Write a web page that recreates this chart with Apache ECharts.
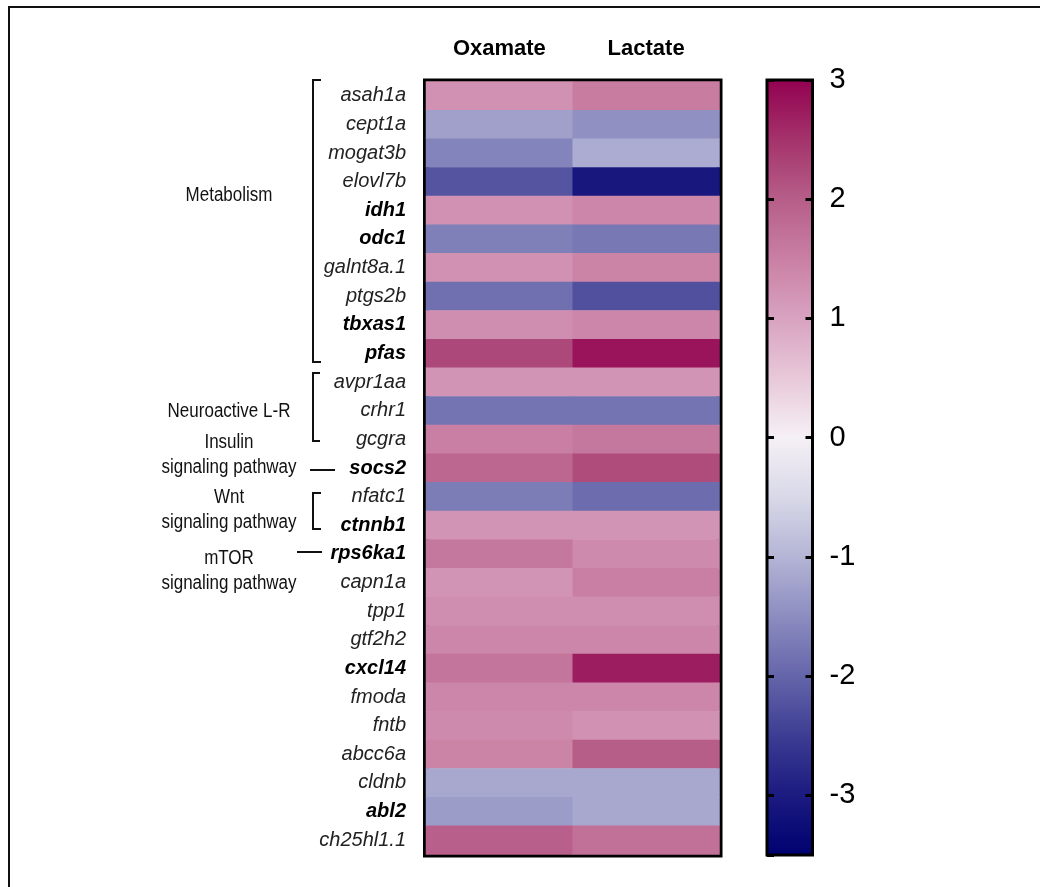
<!DOCTYPE html>
<html><head><meta charset="utf-8">
<script src="https://cdn.jsdelivr.net/npm/echarts@6/dist/echarts.min.js"></script>
<style>html,body{margin:0;padding:0;background:#fff}#c{width:1040px;height:887px}</style>
</head><body><div id="c"></div>
<script>
const genes = ['asah1a','cept1a','mogat3b','elovl7b','idh1','odc1','galnt8a.1','ptgs2b','tbxas1','pfas',
  'avpr1aa','crhr1','gcgra','socs2','nfatc1','ctnnb1','rps6ka1','capn1a','tpp1','gtf2h2','cxcl14',
  'fmoda','fntb','abcc6a','cldnb','abl2','ch25hl1.1'];
const boldGenes = ['idh1','odc1','tbxas1','pfas','socs2','ctnnb1','rps6ka1','cxcl14','abl2'];
const treatments = ['Oxamate','Lactate'];
const oxamate = [1.25,-1.25,-1.6,-2.2,1.25,-1.65,1.25,-1.85,1.3,2.25,
  1.2,-1.8,1.5,1.85,-1.7,1.2,1.6,1.2,1.3,1.4,1.65,
  1.4,1.35,1.45,-1.15,-1.3,1.95];
const lactate = [1.55,-1.45,-1.1,-3.05,1.4,-1.75,1.45,-2.25,1.4,2.8,
  1.2,-1.8,1.6,2.2,-1.9,1.2,1.35,1.5,1.3,1.4,2.7,
  1.4,1.25,2.0,-1.15,-1.15,1.7];
const scaleMin = -3.5, scaleMax = 3;
// colour ramp, one colour every 0.5 from scaleMin to scaleMax
const rampColors = ['#000070','#1a1a80','#3c3c93','#6464aa','#8c8cc0','#b4b4d6','#d8d8e8',
  '#f5f0f5','#e8c8d9','#d8a2c0','#c97fa3','#b65d88','#a4326b','#920050'];

const data = [];
genes.forEach((g, i) => {
  data.push([0, i, oxamate[i]]);
  data.push([1, i, lactate[i]]);
});
const gradStops = rampColors.map((c, i) => {
  const v = scaleMin + i * (scaleMax - scaleMin) / (rampColors.length - 1);
  return { offset: (scaleMax - v) / (scaleMax - scaleMin), color: c };
}).reverse();

const FONT = '"Liberation Sans", Arial, sans-serif';
const chart = echarts.init(document.getElementById('c'), null, { renderer: 'canvas' });

const groupText = (text, x, y) => ({
  type: 'text', x: x, y: y, scaleX: 0.85,
  style: { text: text, fill: '#111', font: '20px ' + FONT, textAlign: 'center', textVerticalAlign: 'middle' }
});
const line = (pts) => ({
  type: 'polyline', shape: { points: pts },
  style: { stroke: '#111', lineWidth: 2, fill: null }
});

chart.setOption({
  animation: false,
  backgroundColor: '#fff',
  textStyle: { fontFamily: FONT },
  grid: [
    { left: 426, top: 81.5, width: 293.5, height: 773, show: true, borderColor: '#000', borderWidth: 6, backgroundColor: '#fff', containLabel: false },
    { left: 767, top: 80, width: 45.5, height: 775, show: true, borderColor: '#000', borderWidth: 3,
      backgroundColor: { type: 'linear', x: 0, y: 0, x2: 0, y2: 1, colorStops: gradStops } }
  ],
  xAxis: [
    { type: 'category', gridIndex: 0, data: treatments, position: 'top',
      axisLine: { show: false }, axisTick: { show: false }, splitLine: { show: false },
      axisLabel: { fontSize: 22, fontWeight: 'bold', color: '#000', margin: 22, fontFamily: FONT } },
    { type: 'category', gridIndex: 1, data: [''], show: false }
  ],
  yAxis: [
    { type: 'category', gridIndex: 0, data: genes, inverse: true,
      axisLine: { show: false }, axisTick: { show: false }, splitLine: { show: false },
      axisLabel: {
        margin: 20, fontSize: 20, fontStyle: 'italic', color: '#222', fontFamily: FONT,
        formatter: (v) => boldGenes.includes(v) ? '{b|' + v + '}' : v,
        rich: { b: { fontSize: 20, fontStyle: 'italic', fontWeight: 'bold', color: '#000', fontFamily: FONT } }
      } },
    { type: 'value', gridIndex: 1, min: scaleMin, max: scaleMax, splitNumber: 7, position: 'left', z: 10,
      axisLine: { show: false }, splitLine: { show: false },
      axisTick: { show: true, inside: true, length: 7, lineStyle: { color: '#000', width: 3 } },
      axisLabel: { show: false } },
    { type: 'value', gridIndex: 1, min: scaleMin, max: scaleMax, splitNumber: 7, position: 'right', z: 10,
      axisLine: { show: false }, splitLine: { show: false },
      axisTick: { show: true, inside: true, length: 7, lineStyle: { color: '#000', width: 3 } },
      axisLabel: { show: true, showMinLabel: false, fontSize: 29, color: '#000', margin: 17, fontFamily: FONT,
        formatter: (v) => Number.isInteger(v) ? String(v) : '' } }
  ],
  visualMap: {
    show: false, type: 'continuous', seriesIndex: 0, min: scaleMin, max: scaleMax,
    inRange: { color: rampColors }
  },
  series: [{
    type: 'heatmap', xAxisIndex: 0, yAxisIndex: 0, data: data,
    itemStyle: { borderWidth: 0 }, emphasis: { disabled: true }
  }],
  graphic: [
    line([[9, 887], [9, 7], [1040, 7]]),
    line([[321, 80], [313, 80], [313, 362], [321, 362]]),
    line([[320, 373], [313, 373], [313, 441], [320, 441]]),
    line([[310, 470], [335, 470]]),
    line([[321, 493], [313, 493], [313, 529], [321, 529]]),
    line([[297, 552], [322, 552]]),
    groupText('Metabolism', 229, 195),
    groupText('Neuroactive L-R', 229, 411),
    groupText('Insulin', 229, 442),
    groupText('signaling pathway', 229, 467),
    groupText('Wnt', 229, 497),
    groupText('signaling pathway', 229, 522),
    groupText('mTOR', 229, 558),
    groupText('signaling pathway', 229, 583)
  ]
});
</script>
</body></html>
